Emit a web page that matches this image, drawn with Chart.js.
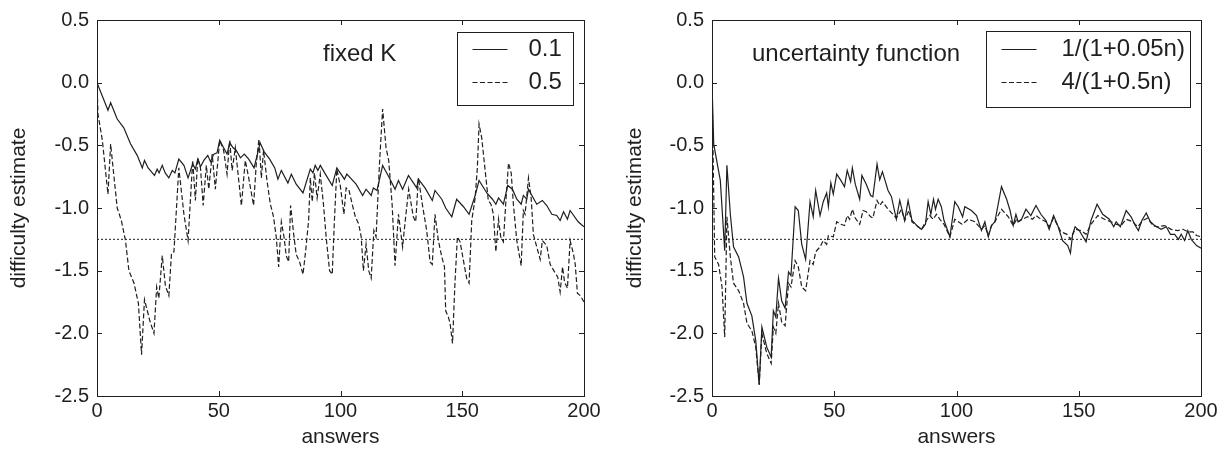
<!DOCTYPE html>
<html><head><meta charset="utf-8">
<script src="https://cdn.jsdelivr.net/npm/chart.js@4/dist/chart.umd.min.js"></script>
<style>
html,body{margin:0;padding:0;background:#fff;}
#wrap{position:relative;width:1232px;height:450px;overflow:hidden;}
.c{position:absolute;top:0;width:616px;height:450px;}
</style></head><body>
<div id="wrap">
<div class="c" style="left:0"><canvas id="c1" width="616" height="450"></canvas></div>
<div class="c" style="left:616px"><canvas id="c2" width="616" height="450"></canvas></div>
</div>
<script>
// ---- tick labels ----
const xTicks = [0, 50, 100, 150, 200];
const yTicks = [0.5, 0.0, -0.5, -1.0, -1.5, -2.0, -2.5];
const refLevel = -1.25;

// ---- left panel: fixed K ----
const leftLabels = ['0.1', '0.5'];
const k01X = [0,4.5,5.6,8.3,11,13.8,16.5,18.6,19.5,21,23.6,24.7,25.5,26.8,28,29.5,30.9,32,33.6,35.7,37.4,39.3,40.4,41.4,42.5,43.9,45.5,46.6,48,49.3,50.4,52,53.4,54.5,55.9,57.2,58.9,60.5,62.3,64.5,67,68.6,70.9,73,74.3,75.7,78.4,79.8,81.8,84.6,87.6,88.7,89.6,90.7,91.7,93.8,96.6,98.5,101.6,102.6,106.4,109.1,110.5,112.6,113.5,115,117.3,120.1,122.4,123.8,125.5,127.9,131.3,132,134.7,137.7,138.8,141.6,143.2,145.7,147.7,150.5,152.8,155.3,156.9,160.1,162.4,163.8,164.9,166.9,168.7,170.6,172.4,174.2,175.1,176.5,177.2,178.6,180.6,182.9,184.7,186.8,188.8,190.2,191.6,193.2,194.3,197.6,200];
const k01Y = [0,-0.22,-0.16,-0.29,-0.36,-0.49,-0.58,-0.68,-0.62,-0.68,-0.74,-0.69,-0.72,-0.66,-0.72,-0.76,-0.70,-0.72,-0.61,-0.66,-0.76,-0.65,-0.69,-0.61,-0.67,-0.62,-0.58,-0.63,-0.57,-0.56,-0.46,-0.52,-0.57,-0.48,-0.52,-0.54,-0.60,-0.57,-0.61,-0.68,-0.48,-0.55,-0.61,-0.68,-0.77,-0.70,-0.80,-0.73,-0.81,-0.88,-0.69,-0.72,-0.66,-0.70,-0.66,-0.73,-0.82,-0.68,-0.77,-0.73,-0.81,-0.90,-0.85,-0.90,-0.84,-0.86,-0.66,-0.76,-0.85,-0.78,-0.85,-0.74,-0.84,-0.77,-0.84,-0.94,-0.86,-0.93,-1.00,-1.07,-0.93,-0.99,-1.05,-0.90,-0.78,-0.88,-0.93,-0.97,-0.92,-0.97,-0.82,-0.85,-0.93,-0.97,-0.90,-0.93,-0.85,-0.90,-0.97,-0.94,-0.98,-1.05,-1.06,-1.10,-1.03,-1.09,-1.02,-1.11,-1.15];
const k05X = [0,0.4,2.2,4.5,5.6,8.3,10,11.7,13.1,15.2,17,18.3,19.5,21.7,23.4,24.5,25.4,26.8,28.1,29.5,30.6,31.6,33.6,35.7,37.4,39.3,40.4,41.4,42.5,43.6,44.9,45.9,47.3,48.6,50.4,52,53.4,54.5,55.5,56.8,59.3,60.9,62.3,64.3,65.4,66.5,67.5,68.4,69.8,71.2,72.5,73.6,74.6,75.7,76.8,77.7,78.7,79.5,80.9,81.8,83.2,84.6,85.7,86.9,87.6,88.4,89.3,90.4,91.7,93,94.1,95.5,96.6,97.5,98.5,99.9,101.4,102.3,103.4,104.8,106.1,107.5,108.5,109.4,110.5,111.6,112.6,113.7,114.6,116,117.3,118.7,119.8,121.2,122.4,123.8,125.5,126.7,128,129.9,130.9,132,133.6,135.4,136.8,137.7,138.8,140.2,141.6,142.7,143.2,144.3,145,146,147,148,149.1,150.5,151.8,152.8,153.9,155.3,156.2,156.9,158,159.4,160.7,161.8,162.8,163.8,164.9,165.8,166.9,168,169,170.1,171,172.4,174.2,175.1,175.8,177.2,178.3,179.2,180.6,182,182.9,184.7,186.1,187.9,189.2,190.2,191.2,192,193.2,194.3,195.7,196.4,197.3,198.5,200];
const k05Y = [0,-0.25,-0.46,-0.89,-0.49,-1.00,-1.10,-1.26,-1.50,-1.60,-1.76,-2.17,-1.73,-1.90,-2.00,-1.63,-1.72,-1.38,-1.62,-1.70,-1.36,-1.35,-0.68,-1.05,-1.26,-0.62,-0.94,-0.60,-0.68,-0.98,-0.66,-0.85,-0.57,-0.85,-0.46,-0.54,-0.73,-0.46,-0.70,-0.52,-0.98,-0.62,-0.76,-0.98,-0.65,-0.45,-0.76,-0.54,-0.78,-0.97,-1.07,-1.23,-1.47,-1.11,-1.23,-1.38,-1.43,-0.98,-1.23,-1.37,-1.43,-1.53,-1.34,-1.10,-0.76,-0.95,-0.72,-0.92,-0.73,-0.97,-1.23,-1.50,-1.53,-1.10,-0.69,-0.82,-1.05,-0.84,-0.85,-0.97,-1.07,-1.13,-1.23,-1.50,-1.29,-1.50,-1.56,-1.18,-1.23,-0.65,-0.21,-0.52,-0.62,-0.97,-1.46,-1.05,-1.31,-1.08,-0.85,-1.07,-1.11,-0.76,-0.97,-1.18,-1.43,-1.45,-1.05,-1.26,-1.39,-1.47,-1.82,-1.87,-1.92,-2.08,-1.60,-1.23,-1.27,-1.42,-1.56,-1.60,-1.10,-0.92,-0.68,-0.33,-0.44,-0.70,-0.94,-0.97,-1.05,-1.35,-1.09,-1.23,-1.27,-0.92,-0.64,-0.72,-0.97,-1.26,-1.46,-1.02,-1.05,-0.76,-0.92,-1.21,-1.31,-1.41,-1.26,-1.30,-1.45,-1.51,-1.55,-1.67,-1.47,-1.59,-1.64,-1.26,-1.37,-1.45,-1.68,-1.70,-1.75];

// ---- right panel: uncertainty function ----
const rightLabels = ['1/(1+0.05n)', '4/(1+0.5n)'];
const uncAX = [0,0.7,3.4,5.2,6.1,7.5,8.8,10.9,12.9,14.3,16.3,17.9,19.3,20.4,22.4,24.2,25.1,26.1,27.2,28.5,29.9,31.3,32.3,34,35.3,36.7,38.3,40.1,41.4,42.4,44.2,45.5,46.9,47.6,48.6,49.6,51,52.7,54.2,55.3,56.7,57.4,58.6,60.4,61.3,63.1,64.9,65.8,67.5,68.6,69.7,72,73.4,75.4,76.8,78.8,80.2,81.8,84.3,85.7,87.3,88.4,89.5,90.6,91.4,92.5,93.8,94.9,97.3,99.3,100.7,102.5,103.4,106.1,108.2,110.2,111.6,113,114.3,115.7,118.4,120.5,121.9,123.2,124.3,125.2,126.6,128.4,130.4,132.5,134.5,136.6,137.9,139.7,141.4,143.4,145.5,146.6,147.5,148.5,150.2,153,155,157.5,159.8,162.5,164.3,165.3,167,169.4,171.4,173.1,174.4,175.8,177.6,179.3,181,183.7,185.8,187.5,189.2,190.8,191.9,193.3,194.6,196,198.2,200];
const uncAY = [0,-0.49,-0.78,-1.34,-0.66,-1.05,-1.31,-1.39,-1.55,-1.76,-1.86,-2.06,-2.41,-1.95,-2.11,-2.19,-1.82,-1.87,-1.56,-1.74,-1.80,-1.51,-1.54,-0.99,-1.02,-1.29,-1.41,-0.95,-1.07,-0.86,-1.06,-0.95,-0.88,-0.99,-0.80,-0.89,-0.73,-0.78,-0.83,-0.70,-0.79,-0.68,-0.81,-0.93,-0.74,-0.81,-0.90,-0.91,-0.65,-0.775,-0.71,-0.86,-0.91,-1.09,-0.94,-1.10,-0.94,-1.10,-1.15,-1.17,-1.13,-0.95,-1.05,-0.93,-1.01,-0.93,-0.99,-1.10,-1.23,-0.95,-0.99,-1.07,-0.99,-1.02,-1.06,-1.18,-1.11,-1.23,-1.14,-1.11,-0.83,-0.93,-1.02,-1.14,-1.05,-1.11,-1.09,-1.01,-1.06,-0.98,-1.05,-1.10,-1.17,-1.06,-1.14,-1.26,-1.30,-1.36,-1.21,-1.15,-1.18,-1.27,-1.10,-0.97,-1.05,-1.09,-1.15,-1.11,-1.15,-1.02,-1.07,-1.14,-1.18,-1.10,-1.04,-1.11,-1.14,-1.17,-1.15,-1.21,-1.21,-1.25,-1.21,-1.26,-1.18,-1.25,-1.30,-1.32];
const uncBX = [0,1.1,2.7,4.1,5.2,6.1,7.5,8.8,10.9,12.9,14.3,16.3,17.9,19.3,20.4,22.4,24.2,25.1,26.1,27.2,28.5,29.9,31.3,32.3,34,35.3,36.7,38.3,40.1,41.4,42.4,44.2,45.5,46.9,47.6,49.6,51,52.7,54.2,55.3,56.3,57.4,58.6,60.4,61.8,63.1,64.9,65.8,67.5,68.6,69.7,72,74,75.4,77.5,78.8,80.5,81.8,84.3,85.7,87.7,89.1,90.4,91.8,93.2,94.9,97.3,99.3,102.3,104.8,107.5,110.2,111.6,113,114.3,115.7,118.4,121.2,123.2,124.6,125.2,127,129.1,131.1,132.5,134.5,136.6,137.9,139.7,141.4,142.7,145.2,146.6,148.5,150.9,153,155,157.8,160.5,163.2,165.3,167.3,169.4,172.1,174.1,176.2,178.2,180.3,182.3,185.1,187.8,190.5,192.6,194.6,196.7,198.2,200];
const uncBY = [0,-1.39,-1.45,-1.63,-2.03,-1.07,-1.39,-1.60,-1.66,-1.76,-1.92,-1.98,-2.11,-2.41,-2.00,-2.16,-2.24,-1.95,-2.00,-1.76,-1.91,-1.94,-1.60,-1.63,-1.42,-1.47,-1.63,-1.66,-1.42,-1.45,-1.35,-1.31,-1.26,-1.29,-1.22,-1.23,-1.11,-1.13,-1.14,-1.06,-1.09,-1.01,-1.08,-1.13,-1.02,-1.03,-1.07,-1.08,-0.94,-0.98,-0.95,-1.01,-1.05,-1.08,-1.01,-1.10,-1.02,-1.11,-1.15,-1.17,-1.10,-1.06,-1.09,-1.05,-1.09,-1.13,-1.23,-1.09,-1.13,-1.09,-1.11,-1.17,-1.14,-1.22,-1.14,-1.11,-1.01,-1.07,-1.14,-1.09,-1.11,-1.09,-1.07,-1.09,-1.06,-1.09,-1.11,-1.15,-1.08,-1.14,-1.19,-1.21,-1.25,-1.17,-1.18,-1.21,-1.13,-1.06,-1.09,-1.11,-1.13,-1.14,-1.09,-1.11,-1.15,-1.10,-1.08,-1.14,-1.15,-1.14,-1.17,-1.18,-1.17,-1.19,-1.19,-1.22,-1.23];

const INK = '#1f1f1f';
const FONT = '"Liberation Sans", Arial, Helvetica, sans-serif';
const FS = 20;      // tick labels
const FS_AX = 21;   // axis titles
const FS_TXT = 24;  // annotation and legend

function pts(xs, ys) { return xs.map((x, i) => ({ x: x, y: ys[i] })); }

const framePlugin = {
  id: 'frame',
  afterDraw(chart) {
    const { ctx, chartArea: a, scales } = chart;
    const o = chart.options.plugins.frame;
    ctx.save();
    ctx.strokeStyle = INK;
    ctx.lineWidth = 1;
    ctx.strokeRect(Math.round(a.left) + 0.5, Math.round(a.top) + 0.5, Math.round(a.right - a.left), Math.round(a.bottom - a.top));
    const L = 5;
    ctx.beginPath();
    xTicks.forEach(v => {
      const p = Math.round(scales.x.getPixelForValue(v)) + 0.5;
      ctx.moveTo(p, a.bottom); ctx.lineTo(p, a.bottom - L);
      ctx.moveTo(p, a.top); ctx.lineTo(p, a.top + L);
    });
    yTicks.forEach(v => {
      const p = Math.round(scales.y.getPixelForValue(v)) + 0.5;
      ctx.moveTo(a.left, p); ctx.lineTo(a.left + L, p);
      ctx.moveTo(a.right, p); ctx.lineTo(a.right - L, p);
    });
    ctx.stroke();

    // annotation text
    ctx.fillStyle = INK;
    ctx.font = FS_TXT + 'px ' + FONT;
    ctx.textBaseline = 'middle';
    ctx.textAlign = 'left';
    ctx.fillText(o.note, a.left + o.noteDx, a.top + o.noteDy);

    // legend box
    const bx = Math.round(a.left + o.lgDx) + 0.5, by = Math.round(a.top + o.lgDy) + 0.5;
    ctx.fillStyle = '#fff';
    ctx.fillRect(bx, by, o.lgW, o.lgH);
    ctx.strokeStyle = INK;
    ctx.lineWidth = 1;
    ctx.setLineDash([]);
    ctx.strokeRect(bx, by, o.lgW, o.lgH);
    const ds = chart.data.datasets.filter(d => !d.isRef);
    ds.forEach((d, i) => {
      const cy = by + o.rowY[i];
      ctx.beginPath();
      ctx.setLineDash(d.borderDash || []);
      ctx.lineWidth = d.borderWidth;
      ctx.strokeStyle = d.borderColor;
      ctx.moveTo(bx + 15, cy); ctx.lineTo(bx + 50, cy);
      ctx.stroke();
      ctx.setLineDash([]);
      ctx.fillStyle = INK;
      ctx.fillText(d.label, bx + o.txtDx, cy);
    });
    ctx.restore();
  }
};

function makeChart(id, xsA, ysA, xsB, ysB, labels, opt) {
  return new Chart(document.getElementById(id), {
    type: 'line',
    data: {
      datasets: [
        { label: '_ref', isRef: true, data: [{ x: xTicks[0], y: refLevel }, { x: xTicks[xTicks.length - 1], y: refLevel }],
          borderColor: INK, borderWidth: 1, borderDash: [2, 2], pointRadius: 0, fill: false },
        { label: labels[0], data: pts(xsA, ysA), borderColor: INK, borderWidth: 1.2, borderDash: [],
          pointRadius: 0, fill: false, tension: 0 },
        { label: labels[1], data: pts(xsB, ysB), borderColor: INK, borderWidth: 1.2, borderDash: [5, 2.5],
          pointRadius: 0, fill: false, tension: 0 }
      ]
    },
    options: {
      responsive: false,
      animation: false,
      events: [],
      layout: { padding: { left: 0, right: opt.padRight, top: 19, bottom: 0 } },
      plugins: {
        legend: { display: false },
        tooltip: { enabled: false },
        frame: opt
      },
      scales: {
        x: {
          type: 'linear', min: 0, max: 200,
          afterBuildTicks: s => { s.ticks = xTicks.map(v => ({ value: v })); },
          afterFit: s => { s.height = 54; },
          grid: { display: false, drawTicks: false }, border: { display: false },
          ticks: { color: INK, font: { family: FONT, size: FS }, padding: 3, maxRotation: 0, autoSkip: false,
                   callback: v => String(v) },
          title: { display: true, text: 'answers', color: INK, font: { family: FONT, size: FS_AX }, padding: { top: 0, bottom: 0 } }
        },
        y: {
          type: 'linear', min: -2.5, max: 0.5,
          afterBuildTicks: s => { s.ticks = yTicks.map(v => ({ value: v })); },
          afterFit: s => { s.width = opt.yWidth; },
          grid: { display: false, drawTicks: false }, border: { display: false },
          ticks: { color: INK, font: { family: FONT, size: FS }, padding: 8, autoSkip: false,
                   callback: v => Number(v).toFixed(1) },
          title: { display: true, text: 'difficulty estimate', color: INK, font: { family: FONT, size: FS_AX }, padding: { top: 7, bottom: 0 } }
        }
      }
    },
    plugins: [framePlugin]
  });
}

makeChart('c1', k01X, k01Y, k05X, k05Y, leftLabels, {
  padRight: 32, yWidth: 97,
  note: 'fixed K', noteDx: 226, noteDy: 34,
  lgDx: 360, lgDy: 12, lgW: 116, lgH: 73, rowY: [17, 50], txtDx: 71
});
makeChart('c2', uncAX, uncAY, uncBX, uncBY, rightLabels, {
  padRight: 31, yWidth: 96,
  note: 'uncertainty function', noteDx: 40, noteDy: 34,
  lgDx: 274, lgDy: 11, lgW: 204, lgH: 76, rowY: [18, 51], txtDx: 75
});
</script>
</body></html>
